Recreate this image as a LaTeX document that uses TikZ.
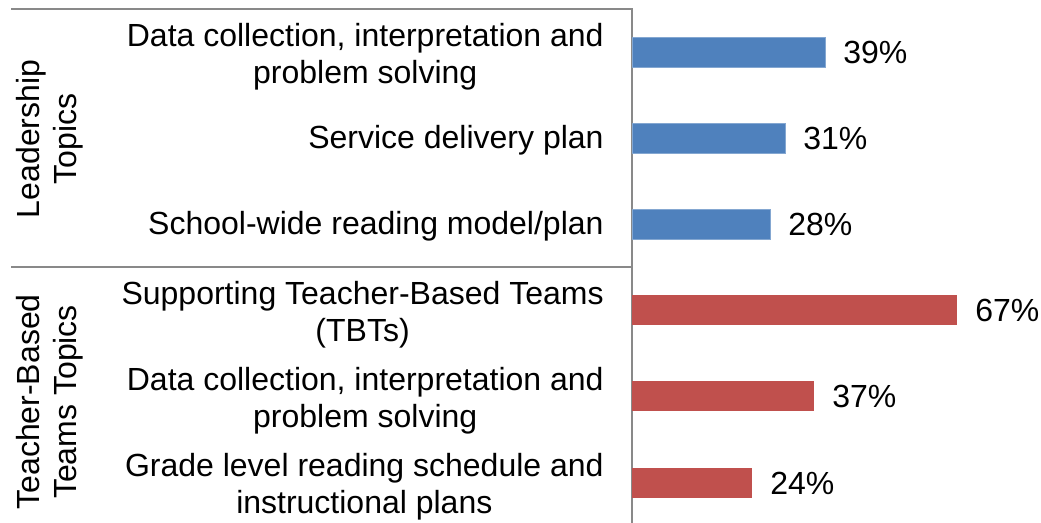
\documentclass[tikz,border=0pt]{standalone}
\usepackage{fontspec}
\setmainfont{Liberation Sans}
\usepackage{tikz}
\usetikzlibrary{positioning}

\definecolor{barblue}{HTML}{4F81BD}
\definecolor{barred}{HTML}{C0504D}
\definecolor{axisgray}{HTML}{898989}

\tikzset{
  txt/.style={inner sep=0pt, font=\fontsize{16}{18.3}\selectfont},
  cat/.style={txt, anchor=east, align=center},
  grp/.style={txt, rotate=90, align=center},
  pct/.style={txt, right=9pt of #1},
  bar/.style={anchor=west, minimum height=15pt, inner sep=0pt, outer sep=0pt},
  bluebar/.style={bar, fill=barblue, draw=barblue!70!white, line width=0.4pt},
  redbar/.style={bar, fill=barred},
  axis/.style={draw=axisgray, line width=0.9pt}
}

\begin{document}
\begin{tikzpicture}[x=0.5pt, y=-0.5pt]
  \useasboundingbox (0,0) rectangle (1041,523);
  % frame of the category axis
  \draw[axis] (11,9) -- (632,9) -- (632,523);
  \draw[axis] (11,267) -- (632,267);

  % group labels
  \node[grp] (lead) at (50,139) {Leadership\\Topics};
  \node[grp] (tbt)  at (50,402) {Teacher-Based\\Teams Topics};

  % category labels
  \node[cat] (c1) at (604,57)  {Data collection, interpretation and\\problem solving};
  \node[cat] (c2) at (604,140) {Service delivery plan};
  \node[cat] (c3) at (604,226) {School-wide reading model/plan};
  \node[cat] (c4) at (604,315) {Supporting Teacher-Based Teams\\(TBTs)};
  \node[cat] (c5) at (604,401) {Data collection, interpretation and\\problem solving};
  \node[cat] (c6) at (604,487) {Grade level reading schedule and\\instructional plans};

  % bars
  \node[bluebar, minimum width=96.5pt] (b1) at (632,52)  {};
  \node[bluebar, minimum width=76.5pt] (b2) at (632,138) {};
  \node[bluebar, minimum width=69pt]   (b3) at (632,224) {};
  \node[redbar, minimum width=162.5pt] (b4) at (632,310) {};
  \node[redbar, minimum width=91pt]    (b5) at (632,396) {};
  \node[redbar, minimum width=60pt]    (b6) at (632,483) {};

  % values
  \node[pct=b1] (v1) {39\%};
  \node[pct=b2] (v2) {31\%};
  \node[pct=b3] (v3) {28\%};
  \node[pct=b4] (v4) {67\%};
  \node[pct=b5] (v5) {37\%};
  \node[pct=b6] (v6) {24\%};
\end{tikzpicture}
\end{document}
